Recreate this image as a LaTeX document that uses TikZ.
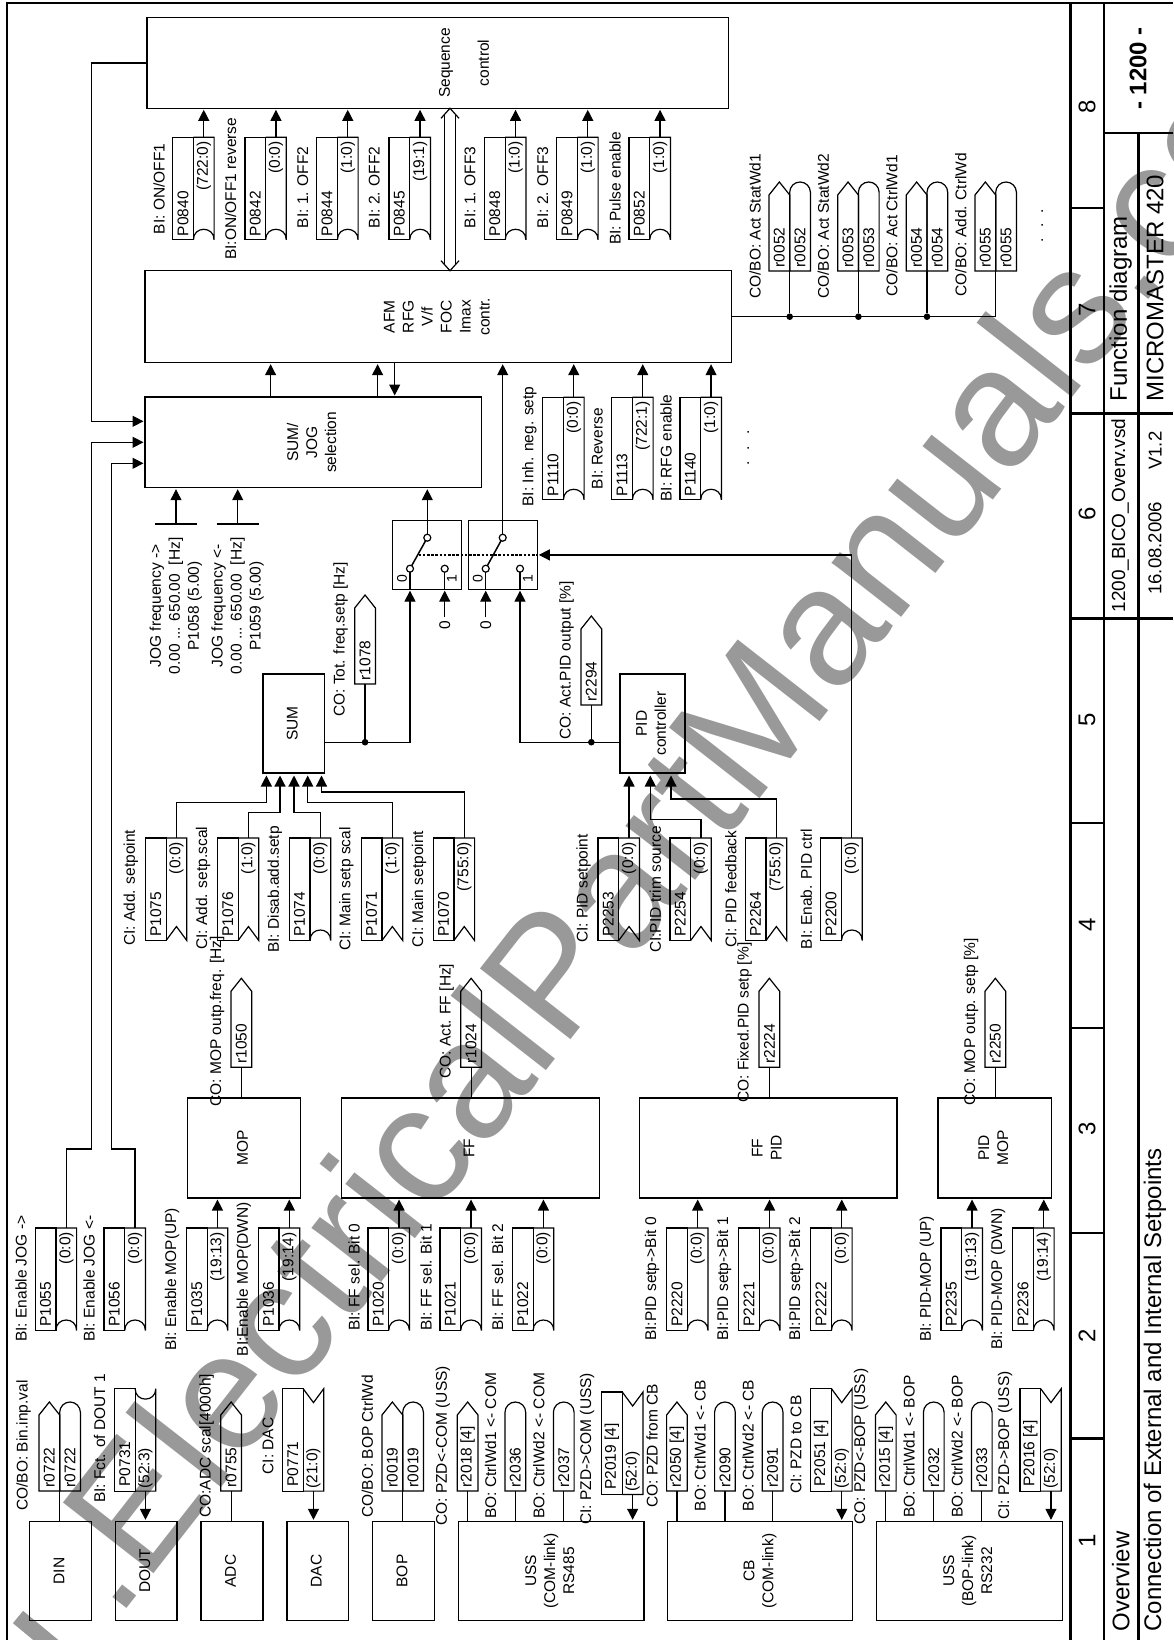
\documentclass[tikz,border=0pt]{standalone}
\usepackage{fontspec}
\setmainfont{Liberation Sans}
\usetikzlibrary{arrows.meta,calc}

% text turned a quarter, several lines
\newcommand{\vt}[1]{\rotatebox{90}{\begin{tabular}{@{}c@{}}#1\end{tabular}}}
\newcommand{\blkbox}[6]{%
  \node[blk, minimum width={(#4-#2)*1pt}, minimum height={(#5-#3)*1pt}] (#1)
    at ({(#2+#4)/2},{(#3+#5)/2}) {\vt{#6}};}
% parameter tag, connector on top, notch below
\newcommand{\intag}[6]{%
  \node[cell, draw] (#1) at ({#2+10.35},{#3+51.25}) {};
  \node[cell] (#1v) at ({#2+31.05},{#3+51.25}) {};
  \draw[wire] (#1v.south west) to[#6] (#1v.south east) -- (#1v.north east) -- (#1v.north west);
  \node[tagtxt, anchor=west] (#1t) at ([yshift=3.5pt]#1.south) {#4};
  \node[tagtxt, anchor=east] (#1d) at ([yshift=-4pt]#1v.north) {#5};}
% parameter tag, notch on top, connector below
\newcommand{\flptag}[6]{%
  \node[cell, draw] (#1) at ({#2+10.35},{#3+51.25}) {};
  \node[cell] (#1v) at ({#2+31.05},{#3+51.25}) {};
  \draw[wire] (#1v.north west) to[#6] (#1v.north east) -- (#1v.south east) -- (#1v.south west);
  \node[tagtxt, anchor=west] (#1t) at ([yshift=4.5pt]#1.south) {#4};
  \node[tagtxt, anchor=west] (#1d) at ([yshift=2.5pt]#1v.south) {#5};}
% read-out tags, pointed and round
\newcommand{\cotag}[4]{%
  \node[outcell] (#1) at ({#2+10.35},{#3-44.5}) {};
  \draw[wire] (#1.south west) -- ([yshift=-13pt]#1.north west) -- (#1.north)
    -- ([yshift=-13pt]#1.north east) -- (#1.south east) -- cycle;
  \node[tagtxt, anchor=west] (#1t) at ([yshift=3.5pt]#1.south) {#4};}
\newcommand{\botag}[4]{%
  \node[outcell] (#1) at ({#2+10.35},{#3-44.5}) {};
  \draw[wire] (#1.south west) -- ([yshift=-10.35pt]#1.north west)
    arc[start angle=180, end angle=0, radius=10.35pt] -- (#1.south east) -- cycle;
  \node[tagtxt, anchor=west] (#1t) at ([yshift=3.5pt]#1.south) {#4};}
\newcommand{\pairtag}[4]{\cotag{#1}{#2}{#3}{#4}\botag{#1b}{#2+20.7}{#3}{#4}}

\begin{document}
\begin{tikzpicture}[
    x=1pt, y=-1pt,
    wire/.style={line width=1.2pt},
    sig/.style={wire, shorten >=1.5pt, -{Triangle[length=11pt,width=11pt]}},
    rule/.style={line width=2.4pt},
    blk/.style={draw, line width=1.2pt, inner sep=0pt, outer sep=0pt,
                font=\fontsize{15.5}{19}\selectfont},
    cell/.style={line width=1.2pt, inner sep=0pt, outer sep=0pt,
                 minimum width=20.7pt, minimum height=102.5pt},
    outcell/.style={inner sep=0pt, outer sep=0pt,
                    minimum width=20.7pt, minimum height=89pt},
    tagtxt/.style={rotate=90, inner sep=0pt, font=\fontsize{15.5}{19}\selectfont},
    lbl/.style={rotate=90, inner sep=0pt, anchor=west,
                font=\fontsize{15.5}{19}\selectfont},
    txt/.style={inner sep=0pt, font=\fontsize{15.5}{19}\selectfont},
    ttl/.style={rotate=90, inner sep=0pt, anchor=west,
                font=\fontsize{24}{28}\selectfont},
    dot/.style={circle, fill=black, inner sep=0pt, minimum size=6.6pt},
    contact/.style={circle, draw, fill=white, line width=1.2pt,
                    inner sep=0pt, minimum size=7pt},
    nbu/.style={to path={.. controls +(0,-14) and +(0,-14) .. (\tikztotarget)}},
    nbd/.style={to path={.. controls +(0,14) and +(0,14) .. (\tikztotarget)}},
    ncu/.style={to path={-- ($(\tikztostart)!.5!(\tikztotarget)+(0,-14)$) -- (\tikztotarget)}},
    ncd/.style={to path={-- ($(\tikztostart)!.5!(\tikztotarget)+(0,14)$) -- (\tikztotarget)}}
]
\useasboundingbox (0,0) rectangle (1173,1640);

% ---------- watermark ----------
\begin{scope}
  \clip (0,0) rectangle (1173,1640);
  \node[rotate=52, anchor=base west, inner sep=0pt, text=black!40,
        font=\fontsize{167}{167}\selectfont] (wmark) at (117,1621)
        {.ElectricalPartManuals.com};
  \draw[black!40, line width=16pt] (18,1617) -- (70,1660);
\end{scope}

% ---------- frame ----------
\draw[rule] (6.7,1640) |- (1173,3);
\foreach \fx/\fy in {1070.5/3,1104.2/3,1138.3/133.3}
  \draw[rule] (\fx,\fy) -- (\fx,1640);
\draw[rule] (1104.2,133.3) -- (1173,133.3);
\foreach \fy in {413.3,618.3}
  \draw[rule] (1070.5,\fy) -- (1173,\fy);
\foreach \fy in {208,823,1028,1233,1438.5}
  \draw[rule] (1070.5,\fy) -- (1104.2,\fy);

% ---------- column numbers ----------
\foreach \k/\fy in {1/1541,2/1336,3/1129,4/925,5/720,6/514,7/310,8/107}
  \node[ttl, anchor=center] (num\k) at (1087,\fy) {\k};

% ---------- title block ----------
\node[ttl, anchor=center, font=\fontsize{24}{28}\selectfont\bfseries] (tnum) at (1138,68.5) {- 1200 -};
\node[ttl] (tfun) at (1120.7,401.7) {Function diagram};
\node[ttl] (tmm) at (1155,401.7) {MICROMASTER 420};
\node[ttl, font=\fontsize{19}{22}\selectfont] (tfile) at (1120,612.7) {1200\_BICO\_Overv.vsd};
\node[ttl, font=\fontsize{18.6}{22}\selectfont] (tdate) at (1155,595) {16.08.2006};
\node[ttl, font=\fontsize{18.6}{22}\selectfont] (tver) at (1155,470) {V1.2};
\node[ttl] (tover) at (1120.7,1631.7) {Overview};
\node[ttl] (tconn) at (1155,1631.7) {Connection of External and Internal Setpoints};

% ---------- blocks ----------
\blkbox{din}{29.7}{1521.3}{91.3}{1620.7}{DIN}
\blkbox{dout}{115.6}{1521.3}{177}{1620.7}{DOUT}
\blkbox{adc}{201}{1521.3}{263}{1620.7}{ADC}
\blkbox{dac}{287}{1521.3}{348.6}{1620.7}{DAC}
\blkbox{bop}{372.8}{1521.3}{434.4}{1620.7}{BOP}
\blkbox{usscom}{458.5}{1521.3}{644}{1620.7}{USS\\(COM-link)\\RS485}
\blkbox{cb}{667.4}{1521.3}{852.7}{1620.7}{CB\\(COM-link)}
\blkbox{ussbop}{876.5}{1521.3}{1062.2}{1620.7}{USS\\(BOP-link)\\RS232}
\blkbox{mop}{187.5}{1098}{300.8}{1198}{MOP}
\blkbox{ff}{341.4}{1098}{599.7}{1198}{FF}
\blkbox{ffpid}{639.8}{1098}{897}{1198}{FF\\PID}
\blkbox{pidmop}{938}{1098}{1051.6}{1198}{PID\\MOP}
\blkbox{sum}{263}{674}{324.6}{773}{SUM}
\blkbox{pid}{620}{674}{685}{773}{PID\\controller}
\blkbox{sumjog}{145}{397}{481.7}{487.7}{SUM/\\JOG\\selection}
\blkbox{afm}{144.9}{270.7}{731.5}{362.7}{AFM\\RFG\\V/f\\FOC\\Imax\\contr.}
\blkbox{seq}{147}{17.7}{728.6}{108.3}{}
\node[txt] (seqtxt) at (465.5,63) {\vt{Sequence\\[20pt]control}};

% ---------- parameter tags ----------
\foreach \pid/\xl/\yt/\pval/\nch/\lx/\ly/\ltxt in {
    P1055/35.2/1228/(0:0)/nbu/21/1342/BI: Enable JOG ->,
    P1056/104/1228/(0:0)/nbu/89/1342/BI: Enable JOG <-,
    P1035/186.4/1228/(19:13)/nbu/172/1351/BI: Enable MOP(UP),
    P1036/258.3/1228/(19:14)/nbu/243.8/1356.5/BI:Enable MOP(DWN),
    P1020/368/1228/(0:0)/nbu/354/1331/BI: FF sel. Bit 0,
    P1021/440/1228/(0:0)/nbu/426/1331/BI: FF sel. Bit 1,
    P1022/512.4/1228/(0:0)/nbu/497.5/1331/BI: FF sel. Bit 2,
    P2220/666.6/1228/(0:0)/nbu/652/1341/BI:PID setp->Bit 0,
    P2221/738.5/1228/(0:0)/nbu/724/1341/BI:PID setp->Bit 1,
    P2222/810.7/1228/(0:0)/nbu/796/1341/BI:PID setp->Bit 2,
    P2235/941/1228/(19:13)/nbu/926.8/1342/BI: PID-MOP (UP),
    P2236/1012.7/1228/(19:14)/nbu/998/1350/BI: PID-MOP (DWN),
    P1075/145.4/838/(0:0)/ncu/130.9/946/CI: Add. setpoint,
    P1076/217.4/838/(1:0)/ncu/203/950/CI: Add. setp.scal,
    P1074/289.3/838/(0:0)/nbu/274.8/953/BI: Disab.add.setp,
    P1071/361.3/838/(1:0)/ncu/346.3/950.7/CI: Main setp scal,
    P1070/433.2/838/(755:0)/ncu/419/947.3/CI: Main setpoint,
    P2253/598/838/(0:0)/ncu/583.5/943/CI: PID setpoint,
    P2254/669.9/838/(0:0)/ncu/655.4/953/CI:PID trim source,
    P2264/745.3/838/(755:0)/ncu/730.8/948/CI: PID feedback,
    P2200/820.8/838/(0:0)/nbu/806.3/949.3/BI: Enab. PID ctrl,
    P1110/542.7/397.3/(0:0)/nbu/529.3/506.7/BI: Inh. neg. setp,
    P1113/611.7/397.3/(722:1)/nbu/597.3/489.3/BI: Reverse,
    P1140/680/397.3/(1:0)/nbu/666/501.7/BI: RFG enable,
    P0840/172.7/137.3/(722:0)/nbu/159.2/234.3/BI: ON{/}OFF1,
    P0842/244.9/137.3/(0:0)/nbu/230.6/260/BI:ON{/}OFF1 reverse,
    P0844/316.7/137.3/(1:0)/nbu/302.9/228.3/BI: 1. OFF2,
    P0845/389/137.3/(19:1)/nbu/374.3/228.3/BI: 2. OFF2,
    P0848/484.5/137.3/(1:0)/nbu/470/228.3/BI: 1. OFF3,
    P0849/556.7/137.3/(1:0)/nbu/542.9/228.3/BI: 2. OFF3,
    P0852/629/137.3/(1:0)/nbu/615/245/BI: Pulse enable}
  {\intag{\pid}{\xl}{\yt}{\pid}{\pval}{\nch}
   \node[lbl] (\pid l) at (\lx,\ly) {\ltxt};}

\foreach \pid/\xl/\yt/\ptxt/\pval/\nch/\lx/\ly/\ltxt in {
    P0731/114.4/1388.6/P0731/(52:3)/nbd/99.5/1503/BI: Fct. of DOUT 1,
    P0771/282.4/1388.6/P0771/(21:0)/ncd/268/1474.6/CI: DAC,
    P2019/601.6/1392/P2019 [4]/(52:0)/ncd/587/1525/CI: PZD->COM (USS),
    P2051/810.7/1388.6/P2051 [4]/(52:0)/ncd/796/1494/CI: PZD to CB,
    P2016/1019.9/1388.6/P2016 [4]/(52:0)/ncd/1005/1520/CI: PZD->BOP (USS)}
  {\flptag{\pid}{\xl}{\yt}{\ptxt}{\pval}{\nch}
   \node[lbl] (\pid l) at (\lx,\ly) {\ltxt};}

% ---------- read-out tags ----------
\foreach \rid/\xl/\yb/\rtxt/\lx/\ly/\ltxt in {
    r0755/220.8/1491/r0755/206.7/1518/{CO:ADC scal[4000h]},
    r2018/457.3/1491/r2018 [4]/442.8/1526/{CO: PZD<-COM (USS)},
    r2050/666.6/1491/r2050 [4]/652/1508/{CO: PZD from CB},
    r2015/875.4/1491/r2015 [4]/861/1525/{CO: PZD<-BOP (USS)},
    r1050/231/1067.3/r1050/217/1106.7/{CO: MOP outp.freq. [Hz]},
    r1024/460.8/1067.3/r1024/446.6/1079/{CO: Act. FF [Hz]},
    r2224/759/1067.3/r2224/744.5/1103/{CO: Fixed.PID setp [\%]},
    r2250/985/1067.3/r2250/971/1106/{CO: MOP outp. setp [\%]},
    r1078/354.7/684/r1078/340.7/717/{CO: Tot. freq.setp [Hz]},
    r2294/581/705/r2294/566.7/740/{CO: Act.PID output [\%]}}
  {\cotag{\rid}{\xl}{\yb}{\rtxt}
   \node[lbl] (\rid l) at (\lx,\ly) {\ltxt};}

\foreach \rid/\xl/\lx/\ly/\ltxt in {
    r2036/505/490.6/1519/{BO: CtrlWd1 <- COM},
    r2037/553.4/538.8/1519/{BO: CtrlWd2 <- COM},
    r2090/714.6/700/1511.5/{BO: CtrlWd1 <- CB},
    r2091/762.3/748/1511.5/{BO: CtrlWd2 <- CB},
    r2032/923.4/909/1518/{BO: CtrlWd1 <- BOP},
    r2033/971.4/957/1518/{BO: CtrlWd2 <- BOP}}
  {\botag{\rid}{\xl}{1491}{\rid}
   \node[lbl] (\rid l) at (\lx,\ly) {\ltxt};}

\foreach \rid/\xl/\yb/\lx/\ly/\ltxt in {
    r0722/39/1491/23.7/1510.8/{CO/BO: Bin.inp.val},
    r0019/382/1491/367.4/1518/{CO/BO: BOP CtrlWd},
    r0052/769/271/755/299/{CO/BO: Act StatWd1},
    r0053/837.7/271/823.3/299/{CO/BO: Act StatWd2},
    r0054/906.3/271/891.7/296.7/{CO/BO: Act CtrlWd1},
    r0055/975/271/960.7/296.7/{CO/BO: Add. CtrlWd}}
  {\pairtag{\rid}{\xl}{\yb}{\rid}
   \node[lbl] (\rid l) at (\lx,\ly) {\ltxt};}

% ---------- dots for more ----------
\node[txt, rotate=90] (more1) at (748.3,448) {.\hspace{11.5pt}.\hspace{11.5pt}.};
\node[txt, rotate=90] (more2) at (1042.3,225.7) {.\hspace{10.5pt}.\hspace{10.5pt}.};

% ---------- plain connectors ----------
\foreach \a/\b in {r0722.south east/din,r0755.south/adc,r0019.south east/bop,
    r2018.south/usscom,r2036.south/usscom,r2037.south/usscom,
    r2050.south/cb,r2090.south/cb,r2091.south/cb,
    r2015.south/ussbop,r2032.south/ussbop,r2033.south/ussbop,
    r1050.south/mop,r1024.south/ff,r2224.south/ffpid,r2250.south/pidmop}
  \draw[wire] (\a) -- (\a |- \b.north);

% ---------- arrows into blocks ----------
\foreach \a/\b in {P0731/dout,P0771/dac,P2019/usscom,P2051/cb,P2016/ussbop}
  \draw[sig] (\a v.south) -- (\a v.south |- \b.north);
\foreach \a/\b in {P1035/mop,P1036/mop,P1020/ff,P1021/ff,P1022/ff,
    P2220/ffpid,P2221/ffpid,P2222/ffpid,P2235/pidmop,P2236/pidmop,
    P1110/afm,P1113/afm,P1140/afm,
    P0840/seq,P0842/seq,P0844/seq,P0845/seq,P0848/seq,P0849/seq,P0852/seq}
  \draw[sig] (\a v.north) -- (\a v.north |- \b.south);

% ---------- jog enable lines ----------
\coordinate (jograil) at (91.7,421.3);
\draw[sig] (seq.west) -| (jograil) -- (jograil -| sumjog.west);
\draw[sig] (P1055v.north) |- (91.7,1149) -- (91.7,442.3) -- (sumjog.west |- 0,442.3);
\draw[sig] (P1056v.north) |- (111.5,1149) -- (111.5,463.3) -- (sumjog.west |- 0,463.3);

% ---------- setpoints into SUM and PID ----------
\foreach \a/\ax/\ay in {P1075/266.4/802.7,P1076/280/812.7,P1074/294/812.7,
    P1071/307.7/802.7,P1070/321.5/792}
  \draw[sig, shorten >=2.5pt] (\a v.north) |- (\ax,\ay) -- (\ax,\ay |- sum.south);
\draw[sig, shorten >=2.5pt] (P2253v.north) -- (P2253v.north |- pid.south);
\draw[sig, shorten >=2.5pt] (P2254v.north) |- (650.3,819.3) -- (650.3,819.3 |- pid.south);
\draw[sig, shorten >=2.5pt] (P2264v.north) |- (671,799) -- (671,799 |- pid.south);

% ---------- switches ----------
\node[draw, wire, minimum width=69pt, minimum height=68.5pt, inner sep=0pt, outer sep=0pt]
  (sw1) at (427.3,554.9) {};
\node[draw, wire, minimum width=69pt, minimum height=68.5pt, inner sep=0pt, outer sep=0pt]
  (sw2) at (502.8,554.9) {};
\foreach \s/\u/\l/\r in {sw1/427.3/410/444.7,sw2/502.7/485.7/520}{
  \draw[wire] (\l,568.7) -- (\l,589);
  \draw[wire] (\r,568.7) -- (\r,589);
  \draw[line width=1.5pt] (\l,568.7) -- (\u,537.7);
  \node[contact] (\s u) at (\u,537.7) {};
  \node[contact] (\s l) at (\l,568.7) {};
  \node[contact] (\s r) at (\r,568.7) {};
}
\node[txt, rotate=90, font=\fontsize{14}{16}\selectfont] (sw1a) at (402,579) {0};
\node[txt, rotate=90, font=\fontsize{14}{16}\selectfont] (sw1b) at (451.7,579) {1};
\node[txt, rotate=90, font=\fontsize{14}{16}\selectfont] (sw2a) at (477.7,579) {0};
\node[txt, rotate=90, font=\fontsize{14}{16}\selectfont] (sw2b) at (527.7,579) {1};
\coordinate (swmid) at ($(sw1l)!.5!(sw1u)$);
\draw[line width=2.2pt, dash pattern=on 2.6pt off 1.6pt] (swmid |- sw2.east) -- (sw2.east);
\draw[sig] (sw1u) -- (sw1u |- sumjog.south);
\draw[sig] (sw2u) -- (sw2u |- afm.south);
\draw[sig] (P2200v.north) |- (sw2.east);

\node[txt, rotate=90] (zero1) at (444.7,625.5) {0};
\node[txt, rotate=90] (zero2) at (485.7,625.5) {0};
\draw[sig] (444.7,617.3) -- (sw1r |- sw1.south);
\draw[sig] (485.7,617.3) -- (sw2l |- sw2.south);

% ---------- SUM and PID outputs ----------
\coordinate (sumout) at ([yshift=-18.7pt]sum.east);
\coordinate (pidout) at ([yshift=-18.7pt]pid.west);
\draw[sig] (sumout) -| (sw1l |- sw1.south);
\draw[sig] (pidout) -| (sw2r |- sw2.south);
\node[dot] (dsum) at (r1078.south |- sumout) {};
\node[dot] (dpid) at (r2294.south |- pidout) {};
\draw[wire] (r1078.south) -- (dsum);
\draw[wire] (r2294.south) -- (dpid);

% ---------- SUM/JOG and AFM ----------
\foreach \sx in {270.6,377.6}
  \draw[sig] (\sx,0 |- sumjog.north) -- (\sx,0 |- afm.south);
\draw[sig] (394.7,0 |- afm.south) -- (394.7,0 |- sumjog.north);

% ---------- jog frequencies ----------
\foreach \j/\jx/\jtop/\jpar in {1/176/->/P1058,2/237.7/<-/P1059}{
  \coordinate (jog\j) at (\jx,524);
  \draw[wire] ([xshift=-21pt]jog\j) -- ([xshift=21pt]jog\j);
  \draw[sig] (jog\j) -- (jog\j |- sumjog.south);
  \node[txt] (jogtxt\j) at (\jx,606)
    {\vt{JOG frequency \jtop\\0.00 ... 650.00\ \ [Hz]\\\jpar\ (5.00)}};
}

% ---------- link AFM to sequence control ----------
\coordinate (dtop) at (seq.south -| 450,0);
\coordinate (dbot) at (afm.north -| 450,0);
\foreach \s in {-5.5,5.5}
  \draw[wire] ([xshift=\s pt,yshift=-6pt]dtop) -- ([xshift=\s pt,yshift=6pt]dbot);
\draw[wire] ([xshift=-9pt,yshift=-10pt]dtop) -- (dtop) -- ([xshift=9pt,yshift=-10pt]dtop);
\draw[wire] ([xshift=-9pt,yshift=10pt]dbot) -- (dbot) -- ([xshift=9pt,yshift=10pt]dbot);

% ---------- status words ----------
\coordinate (afmout) at (afm.east);
\foreach \a in {r0052,r0053,r0054}{
  \node[dot] (d\a) at (\a.south east |- afmout) {};
  \draw[wire] (\a.south east) -- (d\a);
}
\draw[wire] (afmout) -| (r0055.south east);

\end{tikzpicture}
\end{document}
